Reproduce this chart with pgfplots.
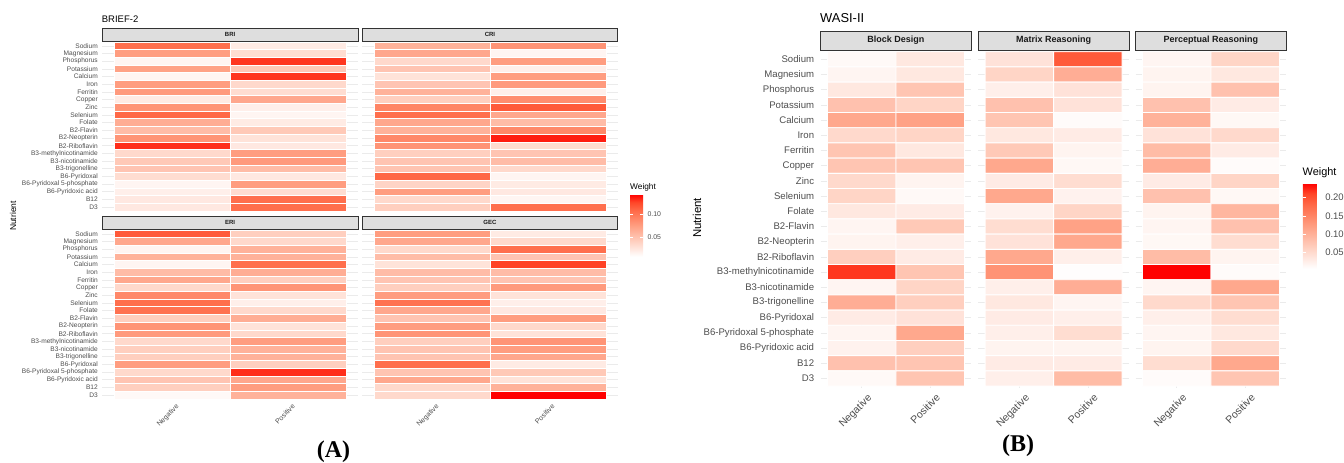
\documentclass[border=0pt]{standalone}
\usepackage{fontspec}
\setmainfont{Liberation Sans}
\newfontfamily\labelserif{Liberation Serif}
\usepackage{pgfplots}
\usepackage{pgfplotstable}
\pgfplotsset{compat=1.18}

\newcommand\fs[1]{\fontsize{#1}{#1}\selectfont}
\definecolor{axtext}{HTML}{4D4D4D}
\definecolor{striptext}{HTML}{1A1A1A}
\definecolor{stripfill}{HTML}{DEDEDE}
\definecolor{stripline}{HTML}{333333}
\definecolor{gridgrey}{HTML}{EBEBEB}

% ---------------- BRIEF-2 weights (x: 1 = Negative, 2 = Positive; y: nutrient row)
\pgfplotstableread[row sep=\\]{
x y w \\
1 1 0.105 \\ 2 1 0.022 \\
1 2 0.076 \\ 2 2 0.032 \\
1 3 0.015 \\ 2 3 0.130 \\
1 4 0.073 \\ 2 4 0.046 \\
1 5 0.015 \\ 2 5 0.130 \\
1 6 0.076 \\ 2 6 0.035 \\
1 7 0.078 \\ 2 7 0.032 \\
1 8 0.022 \\ 2 8 0.069 \\
1 9 0.082 \\ 2 9 0.019 \\
1 10 0.109 \\ 2 10 0.015 \\
1 11 0.065 \\ 2 11 0.022 \\
1 12 0.055 \\ 2 12 0.046 \\
1 13 0.082 \\ 2 13 0.028 \\
1 14 0.132 \\ 2 14 0.024 \\
1 15 0.035 \\ 2 15 0.076 \\
1 16 0.046 \\ 2 16 0.078 \\
1 17 0.049 \\ 2 17 0.055 \\
1 18 0.032 \\ 2 18 0.024 \\
1 19 0.015 \\ 2 19 0.076 \\
1 20 0.019 \\ 2 20 0.032 \\
1 21 0.024 \\ 2 21 0.105 \\
1 22 0.024 \\ 2 22 0.105 \\
}\tabBRI

\pgfplotstableread[row sep=\\]{
x y w \\
1 1 0.062 \\ 2 1 0.082 \\
1 2 0.069 \\ 2 2 0.015 \\
1 3 0.035 \\ 2 3 0.076 \\
1 4 0.049 \\ 2 4 0.019 \\
1 5 0.028 \\ 2 5 0.076 \\
1 6 0.049 \\ 2 6 0.078 \\
1 7 0.062 \\ 2 7 0.019 \\
1 8 0.042 \\ 2 8 0.086 \\
1 9 0.092 \\ 2 9 0.116 \\
1 10 0.105 \\ 2 10 0.069 \\
1 11 0.069 \\ 2 11 0.055 \\
1 12 0.062 \\ 2 12 0.089 \\
1 13 0.089 \\ 2 13 0.136 \\
1 14 0.082 \\ 2 14 0.032 \\
1 15 0.042 \\ 2 15 0.049 \\
1 16 0.049 \\ 2 16 0.055 \\
1 17 0.049 \\ 2 17 0.035 \\
1 18 0.109 \\ 2 18 0.015 \\
1 19 0.038 \\ 2 19 0.022 \\
1 20 0.076 \\ 2 20 0.024 \\
1 21 0.035 \\ 2 21 0.015 \\
1 22 0.042 \\ 2 22 0.105 \\
}\tabCRI

\pgfplotstableread[row sep=\\]{
x y w \\
1 1 0.116 \\ 2 1 0.042 \\
1 2 0.069 \\ 2 2 0.035 \\
1 3 0.015 \\ 2 3 0.062 \\
1 4 0.062 \\ 2 4 0.062 \\
1 5 0.015 \\ 2 5 0.105 \\
1 6 0.055 \\ 2 6 0.065 \\
1 7 0.069 \\ 2 7 0.042 \\
1 8 0.035 \\ 2 8 0.082 \\
1 9 0.089 \\ 2 9 0.028 \\
1 10 0.105 \\ 2 10 0.019 \\
1 11 0.103 \\ 2 11 0.035 \\
1 12 0.042 \\ 2 12 0.065 \\
1 13 0.082 \\ 2 13 0.028 \\
1 14 0.078 \\ 2 14 0.035 \\
1 15 0.035 \\ 2 15 0.076 \\
1 16 0.042 \\ 2 16 0.062 \\
1 17 0.042 \\ 2 17 0.062 \\
1 18 0.076 \\ 2 18 0.042 \\
1 19 0.035 \\ 2 19 0.132 \\
1 20 0.049 \\ 2 20 0.069 \\
1 21 0.042 \\ 2 21 0.076 \\
1 22 0.012 \\ 2 22 0.062 \\
}\tabERI

\pgfplotstableread[row sep=\\]{
x y w \\
1 1 0.076 \\ 2 1 0.022 \\
1 2 0.069 \\ 2 2 0.035 \\
1 3 0.035 \\ 2 3 0.105 \\
1 4 0.055 \\ 2 4 0.049 \\
1 5 0.028 \\ 2 5 0.127 \\
1 6 0.055 \\ 2 6 0.055 \\
1 7 0.049 \\ 2 7 0.049 \\
1 8 0.042 \\ 2 8 0.078 \\
1 9 0.076 \\ 2 9 0.028 \\
1 10 0.103 \\ 2 10 0.019 \\
1 11 0.069 \\ 2 11 0.024 \\
1 12 0.049 \\ 2 12 0.076 \\
1 13 0.076 \\ 2 13 0.035 \\
1 14 0.082 \\ 2 14 0.028 \\
1 15 0.042 \\ 2 15 0.082 \\
1 16 0.049 \\ 2 16 0.076 \\
1 17 0.049 \\ 2 17 0.069 \\
1 18 0.105 \\ 2 18 0.022 \\
1 19 0.049 \\ 2 19 0.046 \\
1 20 0.069 \\ 2 20 0.028 \\
1 21 0.035 \\ 2 21 0.062 \\
1 22 0.035 \\ 2 22 0.143 \\
}\tabGEC

% ---------------- WASI-II weights
\pgfplotstableread[row sep=\\]{
x y w \\
1 1 0.012 \\ 2 1 0.033 \\
1 2 0.017 \\ 2 2 0.033 \\
1 3 0.033 \\ 2 3 0.076 \\
1 4 0.080 \\ 2 4 0.057 \\
1 5 0.111 \\ 2 5 0.118 \\
1 6 0.052 \\ 2 6 0.057 \\
1 7 0.076 \\ 2 7 0.033 \\
1 8 0.076 \\ 2 8 0.076 \\
1 9 0.052 \\ 2 9 0.019 \\
1 10 0.057 \\ 2 10 0.012 \\
1 11 0.033 \\ 2 11 0.029 \\
1 12 0.017 \\ 2 12 0.071 \\
1 13 0.019 \\ 2 13 0.024 \\
1 14 0.064 \\ 2 14 0.029 \\
1 15 0.217 \\ 2 15 0.076 \\
1 16 0.017 \\ 2 16 0.057 \\
1 17 0.104 \\ 2 17 0.064 \\
1 18 0.029 \\ 2 18 0.040 \\
1 19 0.017 \\ 2 19 0.111 \\
1 20 0.021 \\ 2 20 0.064 \\
1 21 0.080 \\ 2 21 0.076 \\
1 22 0.012 \\ 2 22 0.076 \\
}\tabBD

\pgfplotstableread[row sep=\\]{
x y w \\
1 1 0.040 \\ 2 1 0.193 \\
1 2 0.057 \\ 2 2 0.104 \\
1 3 0.024 \\ 2 3 0.040 \\
1 4 0.080 \\ 2 4 0.040 \\
1 5 0.076 \\ 2 5 0.010 \\
1 6 0.033 \\ 2 6 0.029 \\
1 7 0.071 \\ 2 7 0.019 \\
1 8 0.111 \\ 2 8 0.014 \\
1 9 0.029 \\ 2 9 0.047 \\
1 10 0.111 \\ 2 10 0.021 \\
1 11 0.021 \\ 2 11 0.057 \\
1 12 0.047 \\ 2 12 0.118 \\
1 13 0.040 \\ 2 13 0.111 \\
1 14 0.111 \\ 2 14 0.024 \\
1 15 0.134 \\ 2 15 0.007 \\
1 16 0.024 \\ 2 16 0.104 \\
1 17 0.033 \\ 2 17 0.017 \\
1 18 0.029 \\ 2 18 0.024 \\
1 19 0.024 \\ 2 19 0.047 \\
1 20 0.019 \\ 2 20 0.019 \\
1 21 0.029 \\ 2 21 0.029 \\
1 22 0.024 \\ 2 22 0.087 \\
}\tabMR

\pgfplotstableread[row sep=\\]{
x y w \\
1 1 0.017 \\ 2 1 0.057 \\
1 2 0.019 \\ 2 2 0.033 \\
1 3 0.019 \\ 2 3 0.080 \\
1 4 0.080 \\ 2 4 0.029 \\
1 5 0.099 \\ 2 5 0.014 \\
1 6 0.040 \\ 2 6 0.052 \\
1 7 0.087 \\ 2 7 0.029 \\
1 8 0.104 \\ 2 8 0.010 \\
1 9 0.029 \\ 2 9 0.057 \\
1 10 0.080 \\ 2 10 0.014 \\
1 11 0.019 \\ 2 11 0.094 \\
1 12 0.017 \\ 2 12 0.080 \\
1 13 0.014 \\ 2 13 0.047 \\
1 14 0.087 \\ 2 14 0.019 \\
1 15 0.240 \\ 2 15 0.010 \\
1 16 0.017 \\ 2 16 0.111 \\
1 17 0.052 \\ 2 17 0.076 \\
1 18 0.024 \\ 2 18 0.047 \\
1 19 0.017 \\ 2 19 0.033 \\
1 20 0.019 \\ 2 20 0.052 \\
1 21 0.047 \\ 2 21 0.111 \\
1 22 0.010 \\ 2 22 0.076 \\
}\tabPR

\pgfplotsset{
  colormap={ggred}{rgb255(0cm)=(255,255,255) rgb255(2cm)=(255,207,191)
    rgb255(4cm)=(255,158,129) rgb255(6cm)=(255,104,70)
    rgb255(7cm)=(255,70,40) rgb255(8cm)=(255,0,0)},
  heat/.style={
    scale only axis, colormap name=ggred,
    xmin=0.4, xmax=2.6, ymin=0.4, ymax=22.6, y dir=reverse,
    xtick={1,2}, ytick={1,...,22},
    xticklabels={}, yticklabels={},
    grid=major, major grid style={draw=gridgrey, line width=0.5pt},
    axis line style={draw=none}, major tick length=0pt,
    tick style={draw=none},
    every axis title/.style={at={(0.5,1)}, anchor=south, inner sep=0pt,
      outer sep=0pt, fill=stripfill, draw=stripline, text=striptext},
  },
  nutrients/.style={yticklabels={Sodium,Magnesium,Phosphorus,Potassium,Calcium,
    Iron,Ferritin,Copper,Zinc,Selenium,Folate,B2-Flavin,B2-Neopterin,
    B2-Riboflavin,B3-methylnicotinamide,B3-nicotinamide,B3-trigonelline,
    B6-Pyridoxal,B6-Pyridoxal 5-phosphate,B6-Pyridoxic acid,B12,D3}},
  panelA/.style={heat, width=255.5pt, height=170.5pt,
    point meta min=0.008, point meta max=0.143,
    title style={minimum width=255.5pt, minimum height=13.3pt,
      line width=0.6pt, font=\fs{6}\bfseries},
    yticklabel style={font=\fs{6.6}, text=axtext, inner sep=0pt, xshift=-4.4pt},
    xticklabel style={font=\fs{7}, text=axtext, rotate=45, anchor=north east,
      inner sep=0pt, yshift=-5pt}},
  panelB/.style={heat, width=150.7pt, height=337.4pt,
    point meta min=0.005, point meta max=0.240,
    title style={minimum width=150.7pt, minimum height=19.2pt,
      line width=0.8pt, font=\fs{9}\bfseries},
    yticklabel style={font=\fs{9.6}, text=axtext, inner sep=0pt, xshift=-6.3pt},
    xticklabel style={font=\fs{10.5}, text=axtext, rotate=45, anchor=north east,
      inner sep=0pt, yshift=-7.4pt}},
  tilesA/.style={matrix plot*, mesh/cols=2, point meta=explicit,
    draw=white, line width=0.6pt},
  tilesB/.style={matrix plot*, mesh/cols=2, point meta=explicit,
    draw=white, line width=0.9pt},
}

\begin{document}
\begin{tikzpicture}
\path[use as bounding box] (0pt,0pt) rectangle (1344pt,-463pt);

% ---------------- (A) BRIEF-2
\node[anchor=west, inner sep=0pt, font=\fs{9.5}] at (101.7pt,-19pt) {BRIEF-2};
\node[rotate=90, inner sep=0pt, font=\fs{8.5}] at (13pt,-216pt) {Nutrient};

\begin{axis}[panelA, at={(102.4pt,-41.2pt)}, anchor=north west,
  title={BRI}, nutrients]
\addplot[tilesA] table[x=x, y=y, meta=w] {\tabBRI};
\end{axis}

\begin{axis}[panelA, at={(362.2pt,-41.2pt)}, anchor=north west, title={CRI}]
\addplot[tilesA] table[x=x, y=y, meta=w] {\tabCRI};
\end{axis}

\begin{axis}[panelA, at={(102.4pt,-229.2pt)}, anchor=north west,
  title={ERI}, nutrients, xticklabels={Negative,Positive}]
\addplot[tilesA] table[x=x, y=y, meta=w] {\tabERI};
\end{axis}

\begin{axis}[panelA, at={(362.2pt,-229.2pt)}, anchor=north west,
  title={GEC}, xticklabels={Negative,Positive},
  colorbar,
  colorbar style={
    at={(parent axis.north east)}, anchor=north west,
    xshift=3.8pt, yshift=34.9pt,
    scale only axis, width=13pt, height=62.4pt,
    axis line style={draw=none},
    ytick={0.05,0.10}, yticklabels={0.05,0.10},
    ytick pos=both, yticklabel pos=right, tick align=inside,
    major tick length=2.6pt, tick style={draw=white, line width=0.5pt},
    yticklabel style={font=\fs{6.9}, text=axtext, inner sep=0pt, xshift=4.3pt},
  }]
\addplot[tilesA] table[x=x, y=y, meta=w] {\tabGEC};
\end{axis}
\node[anchor=west, inner sep=0pt, font=\fs{8.3}] at (630pt,-187.7pt) {Weight};
\node[inner sep=0pt, font=\labelserif\fs{24}\bfseries] at (333.5pt,-452pt) {(A)};

% ---------------- (B) WASI-II
\node[anchor=west, inner sep=0pt, font=\fs{12.9}] at (820pt,-18pt) {WASI-II};
\node[rotate=90, inner sep=0pt, font=\fs{11.4}] at (697pt,-218pt) {Nutrient};

\begin{axis}[panelB, at={(820.6pt,-50.2pt)}, anchor=north west,
  title={Block Design}, nutrients, xticklabels={Negative,Positive}]
\addplot[tilesB] table[x=x, y=y, meta=w] {\tabBD};
\end{axis}

\begin{axis}[panelB, at={(978.2pt,-50.2pt)}, anchor=north west,
  title={Matrix Reasoning}, xticklabels={Negative,Positive}]
\addplot[tilesB] table[x=x, y=y, meta=w] {\tabMR};
\end{axis}

\begin{axis}[panelB, at={(1135.6pt,-50.2pt)}, anchor=north west,
  title={Perceptual Reasoning}, xticklabels={Negative,Positive},
  colorbar,
  colorbar style={
    at={(parent axis.north east)}, anchor=north west,
    xshift=7.9pt, yshift=-132.9pt,
    scale only axis, width=18pt, height=85.6pt,
    axis line style={draw=none},
    ytick={0.05,0.10,0.15,0.20}, yticklabels={0.05,0.10,0.15,0.20},
    ytick pos=both, yticklabel pos=right, tick align=inside,
    major tick length=3.6pt, tick style={draw=white, line width=0.6pt},
    yticklabel style={font=\fs{9.5}, text=axtext, inner sep=0pt, xshift=4.3pt},
  }]
\addplot[tilesB] table[x=x, y=y, meta=w] {\tabPR};
\end{axis}
\node[anchor=west, inner sep=0pt, font=\fs{10.9}] at (1302.5pt,-173pt) {Weight};
\node[inner sep=0pt, font=\labelserif\fs{24}\bfseries] at (1018pt,-446pt) {(B)};
\end{tikzpicture}
\end{document}
